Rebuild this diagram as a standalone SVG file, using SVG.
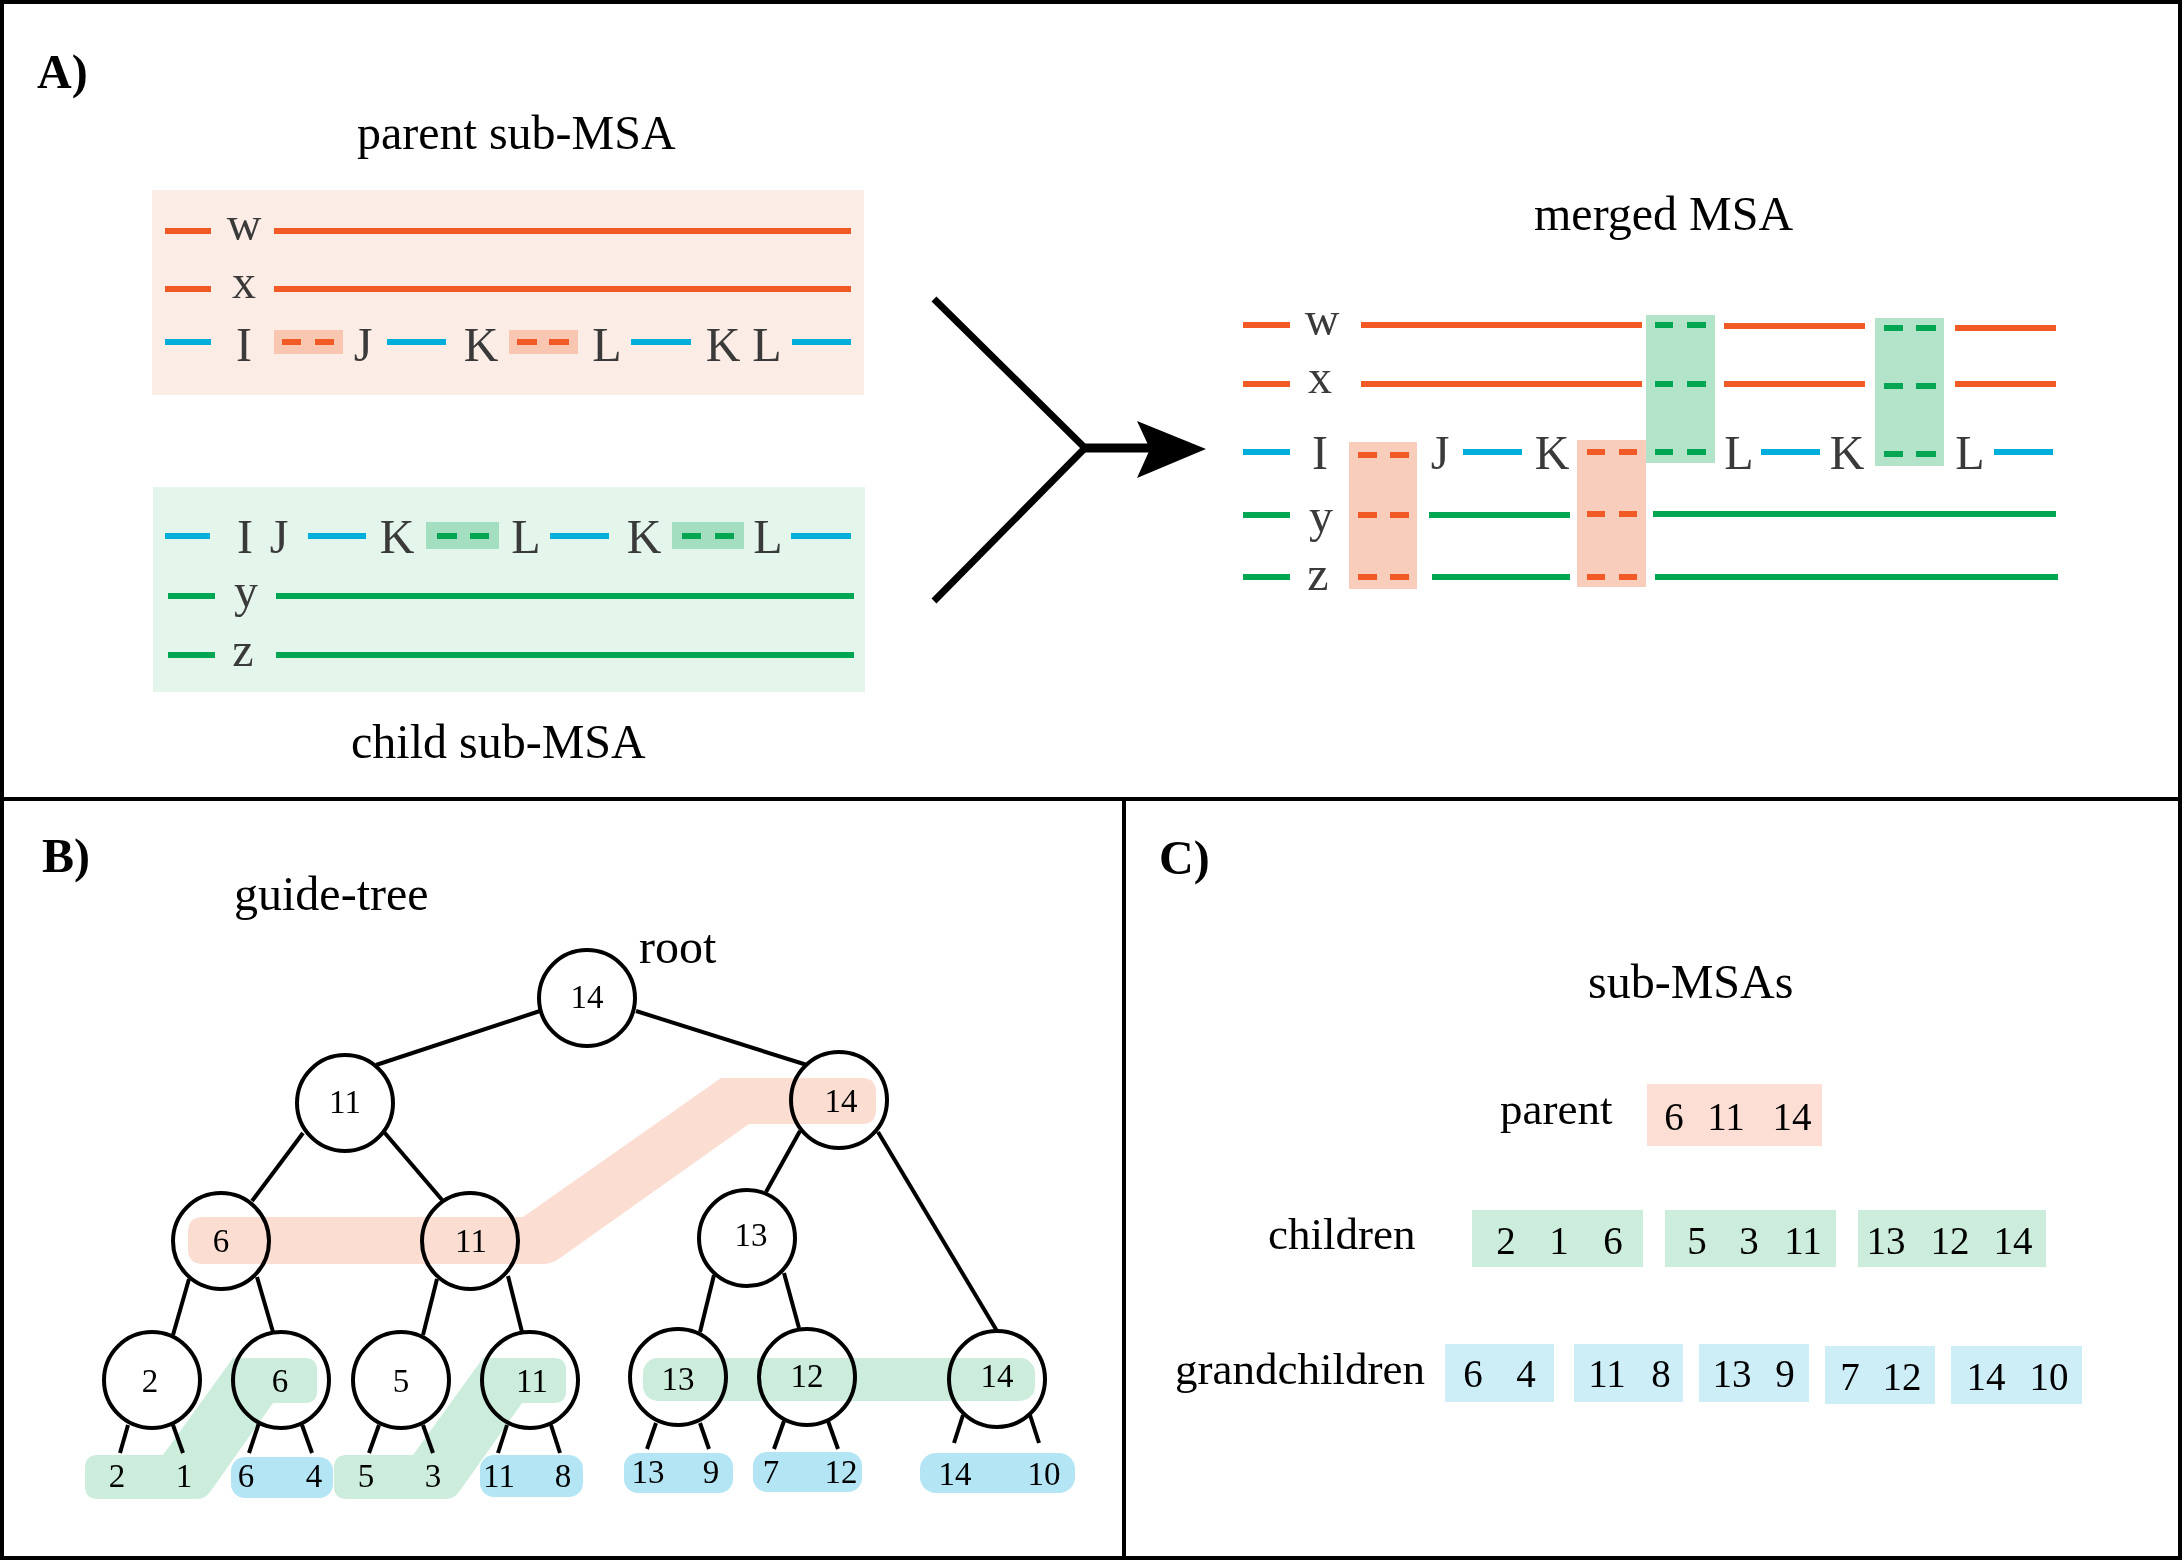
<svg xmlns="http://www.w3.org/2000/svg" width="2182" height="1560" viewBox="0 0 2182 1560">
<style>
text{font-family:"Liberation Serif","Times New Roman",serif}
.t{font-size:48px;fill:#000}
.lab{font-size:48px;font-weight:bold;fill:#000}
.seq{font-size:48px;fill:#3a3a3a;text-anchor:middle}
.o{stroke:#F15A24;stroke-width:6}
.c{stroke:#00AEDB;stroke-width:6}
.g{stroke:#00A651;stroke-width:6}
.edge{stroke:#000;stroke-width:4;fill:none}
.node{fill:#fff;stroke:#000;stroke-width:4}
.num{font-size:33px;fill:#000;text-anchor:middle}
.cnum{font-size:39px;fill:#000;text-anchor:middle}
.row{font-size:45px;fill:#000}
.gapP{fill:#F9C6B1}
.gapG{fill:#A3DEC0}
.mP{fill:#F9CDBC}
.mG{fill:#B3E3C9}
.bandP{fill:#FBDDD2;mix-blend-mode:multiply}
.bandG{fill:#CCECDC;mix-blend-mode:multiply}
.pill{fill:#B3E5F4}
.cP{fill:#FCDED4}
.cG{fill:#CCEDDC}
.cB{fill:#CDEDF7}
</style>
<rect x="0" y="0" width="2182" height="1560" fill="#fff"/>

<!-- frame -->
<g id="frame" fill="none" stroke="#000" stroke-width="4">
<rect x="2" y="2" width="2178" height="1556"/>
<line x1="0" y1="799" x2="2182" y2="799"/>
<line x1="1124" y1="799" x2="1124" y2="1560"/>
</g>

<!-- Panel A -->
<text class="lab" x="37" y="88">A)</text>
<text class="t" x="357" y="149">parent sub-MSA</text>

<g id="parent-msa">
<rect x="152" y="190" width="712" height="205" fill="#FCECE6"/>
<line class="o" x1="165" y1="231" x2="211" y2="231"/>
<text class="seq" x="244" y="240">w</text>
<line class="o" x1="274" y1="231" x2="851" y2="231"/>
<line class="o" x1="165" y1="289" x2="211" y2="289"/>
<text class="seq" x="244" y="298">x</text>
<line class="o" x1="274" y1="289" x2="851" y2="289"/>
<line class="c" x1="165" y1="342" x2="211" y2="342"/>
<text class="seq" x="244" y="361">I</text>
<rect class="gapP" x="274" y="330" width="69" height="24"/>
<line class="o" x1="282" y1="342" x2="301" y2="342"/>
<line class="o" x1="315" y1="342" x2="334" y2="342"/>
<text class="seq" x="363" y="361">J</text>
<line class="c" x1="387" y1="342" x2="446" y2="342"/>
<text class="seq" x="481" y="361">K</text>
<rect class="gapP" x="509" y="330" width="69" height="24"/>
<line class="o" x1="517" y1="342" x2="537" y2="342"/>
<line class="o" x1="549" y1="342" x2="569" y2="342"/>
<text class="seq" x="607" y="361">L</text>
<line class="c" x1="631" y1="342" x2="691" y2="342"/>
<text class="seq" x="723" y="361">K</text>
<text class="seq" x="767" y="361">L</text>
<line class="c" x1="792" y1="342" x2="851" y2="342"/>
</g>

<g id="child-msa">
<rect x="153" y="487" width="712" height="205" fill="#E4F5EC"/>
<line class="c" x1="165" y1="536" x2="210" y2="536"/>
<text class="seq" x="245" y="553">I</text>
<text class="seq" x="279" y="553">J</text>
<line class="c" x1="308" y1="536" x2="366" y2="536"/>
<text class="seq" x="397" y="553">K</text>
<rect class="gapG" x="426" y="522" width="73" height="27"/>
<line class="g" x1="437" y1="536" x2="457" y2="536"/>
<line class="g" x1="470" y1="536" x2="489" y2="536"/>
<text class="seq" x="526" y="553">L</text>
<line class="c" x1="550" y1="536" x2="609" y2="536"/>
<text class="seq" x="644" y="553">K</text>
<rect class="gapG" x="672" y="522" width="72" height="27"/>
<line class="g" x1="682" y1="536" x2="701" y2="536"/>
<line class="g" x1="715" y1="536" x2="734" y2="536"/>
<text class="seq" x="768" y="553">L</text>
<line class="c" x1="791" y1="536" x2="851" y2="536"/>
<line class="g" x1="168" y1="596" x2="215" y2="596"/>
<text class="seq" x="246" y="607">y</text>
<line class="g" x1="276" y1="596" x2="854" y2="596"/>
<line class="g" x1="168" y1="655" x2="215" y2="655"/>
<text class="seq" x="243" y="666">z</text>
<line class="g" x1="276" y1="655" x2="854" y2="655"/>
</g>
<text class="t" x="351" y="758">child sub-MSA</text>

<g id="merge-arrow">
<polyline points="934,299 1085,448 934,601" fill="none" stroke="#000" stroke-width="7"/>
<line x1="1085" y1="448" x2="1152" y2="448" stroke="#000" stroke-width="9"/>
<polygon points="1137,421 1206,449 1137,478 1150,449" fill="#000"/>
</g>

<text class="t" x="1534" y="230">merged MSA</text>
<g id="merged-msa">
<rect class="mG" x="1646" y="315" width="69" height="148"/>
<rect class="mG" x="1875" y="318" width="69" height="148"/>
<rect class="mP" x="1349" y="442" width="68" height="147"/>
<rect class="mP" x="1577" y="440" width="69" height="147"/>
<!-- w -->
<line class="o" x1="1243" y1="325" x2="1290" y2="325"/>
<text class="seq" x="1322" y="335">w</text>
<line class="o" x1="1361" y1="325" x2="1642" y2="325"/>
<line class="g" x1="1655" y1="325" x2="1673" y2="325"/>
<line class="g" x1="1687" y1="325" x2="1706" y2="325"/>
<line class="o" x1="1724" y1="326" x2="1865" y2="326"/>
<line class="g" x1="1884" y1="328" x2="1903" y2="328"/>
<line class="g" x1="1916" y1="328" x2="1936" y2="328"/>
<line class="o" x1="1955" y1="328" x2="2056" y2="328"/>
<!-- x -->
<line class="o" x1="1243" y1="384" x2="1290" y2="384"/>
<text class="seq" x="1320" y="393">x</text>
<line class="o" x1="1361" y1="384" x2="1642" y2="384"/>
<line class="g" x1="1655" y1="384" x2="1673" y2="384"/>
<line class="g" x1="1687" y1="384" x2="1706" y2="384"/>
<line class="o" x1="1724" y1="384" x2="1865" y2="384"/>
<line class="g" x1="1884" y1="386" x2="1903" y2="386"/>
<line class="g" x1="1916" y1="386" x2="1936" y2="386"/>
<line class="o" x1="1955" y1="384" x2="2056" y2="384"/>
<!-- I -->
<line class="c" x1="1243" y1="452" x2="1290" y2="452"/>
<text class="seq" x="1320" y="469">I</text>
<line class="o" x1="1358" y1="455" x2="1377" y2="455"/>
<line class="o" x1="1390" y1="455" x2="1409" y2="455"/>
<text class="seq" x="1440" y="469">J</text>
<line class="c" x1="1463" y1="452" x2="1522" y2="452"/>
<text class="seq" x="1552" y="469">K</text>
<line class="o" x1="1587" y1="452" x2="1605" y2="452"/>
<line class="o" x1="1619" y1="452" x2="1637" y2="452"/>
<line class="g" x1="1655" y1="452" x2="1673" y2="452"/>
<line class="g" x1="1687" y1="452" x2="1706" y2="452"/>
<text class="seq" x="1739" y="469">L</text>
<line class="c" x1="1761" y1="452" x2="1820" y2="452"/>
<text class="seq" x="1847" y="469">K</text>
<line class="g" x1="1884" y1="454" x2="1903" y2="454"/>
<line class="g" x1="1916" y1="454" x2="1936" y2="454"/>
<text class="seq" x="1970" y="469">L</text>
<line class="c" x1="1994" y1="452" x2="2053" y2="452"/>
<!-- y -->
<line class="g" x1="1243" y1="515" x2="1290" y2="515"/>
<text class="seq" x="1321" y="532">y</text>
<line class="o" x1="1358" y1="515" x2="1377" y2="515"/>
<line class="o" x1="1390" y1="515" x2="1409" y2="515"/>
<line class="g" x1="1429" y1="515" x2="1570" y2="515"/>
<line class="o" x1="1587" y1="514" x2="1605" y2="514"/>
<line class="o" x1="1619" y1="514" x2="1637" y2="514"/>
<line class="g" x1="1653" y1="514" x2="2056" y2="514"/>
<!-- z -->
<line class="g" x1="1243" y1="577" x2="1290" y2="577"/>
<text class="seq" x="1318" y="590">z</text>
<line class="o" x1="1358" y1="577" x2="1377" y2="577"/>
<line class="o" x1="1390" y1="577" x2="1409" y2="577"/>
<line class="g" x1="1432" y1="577" x2="1570" y2="577"/>
<line class="o" x1="1587" y1="577" x2="1605" y2="577"/>
<line class="o" x1="1619" y1="577" x2="1637" y2="577"/>
<line class="g" x1="1655" y1="577" x2="2058" y2="577"/>
</g>

<!-- Panel B -->
<text class="lab" x="42" y="872">B)</text>
<text class="t" x="234" y="910">guide-tree</text>
<text class="t" x="639" y="963">root</text>

<g id="connectors" class="edge">
<line x1="540" y1="1011" x2="376" y2="1065"/>
<line x1="636" y1="1011" x2="807" y2="1065"/>
<line x1="303" y1="1133" x2="252" y2="1201"/>
<line x1="384" y1="1132" x2="443" y2="1201"/>
<line x1="800" y1="1131" x2="766" y2="1192"/>
<line x1="878" y1="1132" x2="997" y2="1331"/>
<line x1="189" y1="1279" x2="173" y2="1335"/>
<line x1="257" y1="1277" x2="273" y2="1332"/>
<line x1="437" y1="1279" x2="423" y2="1335"/>
<line x1="508" y1="1276" x2="522" y2="1332"/>
<line x1="714" y1="1275" x2="700" y2="1332"/>
<line x1="784" y1="1273" x2="799" y2="1328"/>
<line x1="128" y1="1425" x2="120" y2="1453"/>
<line x1="173" y1="1425" x2="183" y2="1453"/>
<line x1="259" y1="1423" x2="249" y2="1453"/>
<line x1="302" y1="1425" x2="312" y2="1453"/>
<line x1="379" y1="1425" x2="369" y2="1453"/>
<line x1="423" y1="1425" x2="433" y2="1453"/>
<line x1="507" y1="1425" x2="498" y2="1453"/>
<line x1="551" y1="1425" x2="560" y2="1453"/>
<line x1="656" y1="1423" x2="647" y2="1449"/>
<line x1="700" y1="1423" x2="709" y2="1449"/>
<line x1="784" y1="1421" x2="774" y2="1449"/>
<line x1="828" y1="1421" x2="838" y2="1449"/>
<line x1="963" y1="1415" x2="954" y2="1443"/>
<line x1="1030" y1="1415" x2="1039" y2="1443"/>
</g>

<g id="node-root-14"><circle class="node" cx="587" cy="998" r="48"/><text class="num" x="587" y="1008">14</text></g>
<g id="node-11-l1"><circle class="node" cx="345" cy="1103" r="48"/><text class="num" x="345" y="1113">11</text></g>
<g id="node-14-l1"><circle class="node" cx="839" cy="1100" r="48"/><text class="num" x="841" y="1112">14</text></g>
<g id="node-6-l2"><circle class="node" cx="221" cy="1241" r="48"/><text class="num" x="221" y="1252">6</text></g>
<g id="node-11-l2"><circle class="node" cx="470" cy="1241" r="48"/><text class="num" x="471" y="1252">11</text></g>
<g id="node-13-l2"><circle class="node" cx="747" cy="1238" r="48"/><text class="num" x="751" y="1246">13</text></g>
<g id="node-2"><circle class="node" cx="152" cy="1380" r="48"/><text class="num" x="150" y="1392">2</text></g>
<g id="node-6-l3"><circle class="node" cx="281" cy="1380" r="48"/><text class="num" x="280" y="1392">6</text></g>
<g id="node-5"><circle class="node" cx="401" cy="1380" r="48"/><text class="num" x="401" y="1392">5</text></g>
<g id="node-11-l3"><circle class="node" cx="530" cy="1380" r="48"/><text class="num" x="532" y="1392">11</text></g>
<g id="node-13-l3"><circle class="node" cx="678" cy="1377" r="48"/><text class="num" x="678" y="1390">13</text></g>
<g id="node-12"><circle class="node" cx="807" cy="1377" r="48"/><text class="num" x="807" y="1387">12</text></g>
<g id="node-14-l3"><circle class="node" cx="997" cy="1379" r="48"/><text class="num" x="997" y="1387">14</text></g>

<g id="bands">
<path class="bandP" d="M203,1217 L523,1217 L721,1078 L862,1078 Q876,1078 876,1092 L876,1110 Q876,1124 862,1124 L749,1124 L560,1258 Q552,1264 542,1264 L203,1264 Q188,1264 188,1249 L188,1232 Q188,1217 203,1217 Z"/>
<path class="bandG" d="M98,1455 L163,1455 L233,1358 L305,1358 Q317,1358 317,1370 L317,1391 Q317,1403 305,1403 L273,1403 L210,1492 Q205,1499 197,1499 L98,1499 Q85,1499 85,1486 L85,1468 Q85,1455 98,1455 Z"/>
<path class="bandG" d="M347,1455 L413,1455 L483,1358 L554,1358 Q566,1358 566,1370 L566,1391 Q566,1403 554,1403 L522,1403 L459,1492 Q454,1499 446,1499 L347,1499 Q334,1499 334,1486 L334,1468 Q334,1455 347,1455 Z"/>
<rect class="bandG" x="643" y="1358" width="392" height="43" rx="15"/>
</g>

<g id="leaf-2-1"><text class="num" x="117" y="1487">2</text><text class="num" x="184" y="1487">1</text></g>
<g id="leaf-6-4"><rect class="pill" x="231" y="1457" width="102" height="41" rx="14"/><text class="num" x="246" y="1487">6</text><text class="num" x="314" y="1487">4</text></g>
<g id="leaf-5-3"><text class="num" x="366" y="1487">5</text><text class="num" x="433" y="1487">3</text></g>
<g id="leaf-11-8"><rect class="pill" x="480" y="1455" width="103" height="42" rx="14"/><text class="num" x="499" y="1487">11</text><text class="num" x="563" y="1487">8</text></g>
<g id="leaf-13-9"><rect class="pill" x="624" y="1453" width="109" height="40" rx="14"/><text class="num" x="648" y="1483">13</text><text class="num" x="711" y="1483">9</text></g>
<g id="leaf-7-12"><rect class="pill" x="753" y="1452" width="109" height="40" rx="14"/><text class="num" x="771" y="1483">7</text><text class="num" x="841" y="1483">12</text></g>
<g id="leaf-14-10"><rect class="pill" x="920" y="1453" width="155" height="40" rx="16"/><text class="num" x="955" y="1485">14</text><text class="num" x="1044" y="1485">10</text></g>

<!-- Panel C -->
<text class="lab" x="1159" y="874">C)</text>
<text class="t" x="1588" y="998">sub-MSAs</text>

<text class="row" x="1500" y="1124">parent</text>
<g id="c-parent"><rect class="cP" x="1647" y="1084" width="175" height="62"/>
<text class="cnum" x="1674" y="1130">6</text><text class="cnum" x="1726" y="1130">11</text><text class="cnum" x="1792" y="1130">14</text></g>

<text class="row" x="1268" y="1249">children</text>
<g id="c-child-1"><rect class="cG" x="1472" y="1210" width="171" height="57"/>
<text class="cnum" x="1506" y="1254">2</text><text class="cnum" x="1559" y="1254">1</text><text class="cnum" x="1613" y="1254">6</text></g>
<g id="c-child-2"><rect class="cG" x="1665" y="1210" width="171" height="57"/>
<text class="cnum" x="1697" y="1254">5</text><text class="cnum" x="1749" y="1254">3</text><text class="cnum" x="1803" y="1254">11</text></g>
<g id="c-child-3"><rect class="cG" x="1858" y="1210" width="188" height="57"/>
<text class="cnum" x="1886" y="1254">13</text><text class="cnum" x="1950" y="1254">12</text><text class="cnum" x="2013" y="1254">14</text></g>

<text class="row" x="1175" y="1384">grandchildren</text>
<g id="c-gc-1"><rect class="cB" x="1445" y="1344" width="109" height="58"/>
<text class="cnum" x="1473" y="1387">6</text><text class="cnum" x="1526" y="1387">4</text></g>
<g id="c-gc-2"><rect class="cB" x="1574" y="1344" width="109" height="58"/>
<text class="cnum" x="1607" y="1387">11</text><text class="cnum" x="1661" y="1387">8</text></g>
<g id="c-gc-3"><rect class="cB" x="1699" y="1344" width="110" height="58"/>
<text class="cnum" x="1732" y="1387">13</text><text class="cnum" x="1785" y="1387">9</text></g>
<g id="c-gc-4"><rect class="cB" x="1825" y="1346" width="110" height="58"/>
<text class="cnum" x="1850" y="1390">7</text><text class="cnum" x="1902" y="1390">12</text></g>
<g id="c-gc-5"><rect class="cB" x="1951" y="1346" width="131" height="58"/>
<text class="cnum" x="1986" y="1390">14</text><text class="cnum" x="2049" y="1390">10</text></g>
</svg>
